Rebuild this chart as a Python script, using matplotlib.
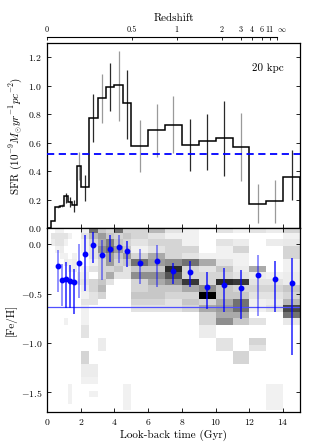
import numpy as np
import matplotlib
matplotlib.use('Agg')
import matplotlib.pyplot as plt
from matplotlib.colors import to_rgba

plt.rcParams.update({
    'font.family': 'serif',
    'font.serif': ['cmr10', 'DejaVu Serif'],
    'mathtext.fontset': 'cm',
    'axes.formatter.use_mathtext': True,
    'axes.unicode_minus': True,
})

# ---------------- data ----------------
sfr_edges = [0, 0.25, 0.5, 0.75, 1.0, 1.25, 1.5, 1.75, 2.0, 2.5, 3.0, 3.5, 4.0, 4.5,
             5, 6, 7, 8, 9, 10, 11, 12, 13, 14, 15]
sfr_values = [0.0, 0.05, 0.15, 0.155, 0.224, 0.182, 0.163, 0.434, 0.289, 0.775,
              0.915, 0.99, 1.003, 0.875, 0.575, 0.686, 0.725, 0.586, 0.61, 0.632,
              0.569, 0.168, 0.189, 0.359]
sfr_mean_level = 0.523

err_time = [0.625, 0.875, 1.125, 1.375, 1.625, 1.875, 2.25, 2.75, 3.25, 3.75, 4.25,
            4.75, 5.5, 6.5, 7.5, 8.5, 9.5, 10.5, 11.5, 12.5, 13.5, 14.5]
sfr_lo = [0.14, 0.145, 0.175, 0.15, 0.115, 0.336, 0.19, 0.604, 0.74, 0.821, 0.751,
          0.628, 0.394, 0.5, 0.525, 0.40, 0.41, 0.364, 0.33, 0.033, 0.037, 0.20]
sfr_hi = [0.16, 0.17, 0.245, 0.215, 0.195, 0.534, 0.37, 0.943, 1.083, 1.158, 1.246,
          1.111, 0.756, 0.873, 0.928, 0.768, 0.80, 0.896, 0.81, 0.308, 0.336, 0.546]
err_light = [True, True, False, False, False, True, False, False, True, False, True,
             False, True, True, False, False, False, False, False, True, False, False]
sfr_light = [True, True, False, False, False, True, False, False, True, False, True,
             False, True, True, True, False, False, False, True, True, True, False]

feh_mean = [-0.22, -0.361, -0.351, -0.368, -0.385, -0.186, -0.098, -0.007, -0.112,
            -0.051, -0.024, -0.068, -0.193, -0.166, -0.267, -0.277, -0.429, -0.412,
            -0.439, -0.311, -0.351, -0.388]
feh_lo = [-0.483, -0.63, -0.641, -0.641, -0.708, -0.54, -0.473, -0.193, -0.361,
          -0.18, -0.19, -0.226, -0.40, -0.43, -0.40, -0.43, -0.658, -0.682, -0.756,
          -0.722, -0.69, -1.12]
feh_hi = [-0.058, -0.2, -0.179, -0.213, -0.253, 0.0, 0.091, 0.124, 0.044, 0.094,
          0.094, 0.037, -0.05, -0.007, -0.19, -0.17, -0.277, -0.243, -0.26, -0.108,
          -0.17, -0.135]
feh_reference = -0.635

# 2D age-metallicity density (rows from top [Fe/H] bin downwards, columns follow sfr_edges)
feh_edges = np.linspace(0.18333, -1.75, 30)
density = [
    [0, 0, 0.5, 0.5, 0, 0, 0, 0, 0.5, 5, 2, 1.5, 5, 1.5, 1.5, 2.5, 1, 0.5, 0, 1, 0.5, 1, 0.7, 1.5],
    [0, 1, 1, 1, 1, 0.5, 0, 0, 1, 2.5, 3.5, 2, 1.5, 2, 1.5, 1, 0.5, 0.5, 0, 0, 0, 0, 0, 0.5],
    [0, 0.7, 1, 1, 0.5, 0, 0, 0, 0.5, 1.5, 3, 4.5, 2, 1.5, 1, 1.5, 1.5, 0.5, 0, 1, 0.7, 0, 0.7, 0.8],
    [0, 0, 0.5, 0.7, 0, 0, 0, 0, 0.5, 1, 4, 5, 3.5, 2, 0.5, 1, 1.5, 1.5, 0, 0.5, 1.5, 0, 0, 1.5],
    [0, 0, 0, 0.5, 0.5, 0, 0.5, 0, 0, 1, 2, 3.5, 2, 3.5, 1.5, 3, 1.5, 1, 0.5, 0.5, 0.5, 0, 0, 1.5],
    [0, 0, 0, 0, 0.7, 0.5, 0.7, 0, 0, 0.5, 1.5, 3.5, 1.5, 2, 5, 3.5, 4, 5, 3, 1, 0.5, 0, 0, 0.5],
    [0, 0, 0, 0, 0, 0.5, 0.7, 0, 0.5, 1, 1.5, 1.5, 2, 1, 2, 2, 7.5, 1.5, 1, 2, 0.7, 3, 0, 0.5],
    [0, 0, 0, 0, 0, 0, 0, 0.5, 0.7, 0, 1.5, 3, 1, 1, 4, 4, 6, 1.5, 1.5, 1.5, 1, 0.7, 0.5, 0.7],
    [0, 0, 0, 0, 0, 0, 0, 0.7, 1, 1.5, 2, 1, 0, 0, 1.5, 3, 4, 7, 1.5, 7.5, 7, 1, 1, 0.7],
    [0, 0, 0, 0, 0, 0, 0, 0, 0.7, 1.5, 2.5, 0, 0, 0, 1.5, 2, 2, 3, 4, 2, 1.5, 1.5, 1.5, 2],
    [0, 0, 0, 0, 0, 0, 0, 0, 0.5, 1, 1.5, 0, 0, 0, 2, 2, 1.5, 1.5, 9, 2, 2, 1, 1, 1.5],
    [0, 0, 0, 0, 0, 0, 0, 0, 1, 1, 0, 0, 0, 0, 1.5, 1.5, 1, 2, 1.5, 3, 5, 0.5, 0.7, 2.5],
    [0, 0, 0, 0, 0, 0, 0, 0, 0.5, 0, 0, 0, 0, 0, 1, 1, 1, 1.5, 3, 3.5, 5, 0.5, 1, 6.5],
    [0, 0, 0, 0, 0, 0, 0, 0, 0.5, 0, 0, 0, 0, 0, 0, 0, 0, 0, 1.5, 3, 3, 0, 0, 5],
    [0, 0, 0, 0, 0.5, 0, 0, 0, 0.5, 0, 0, 0, 0, 0, 0, 0, 0, 0, 1.5, 4, 2, 1, 0, 0.8],
    [0, 0, 0, 0, 0, 0, 0, 0, 1, 0, 0, 0, 0, 0, 0, 0, 0, 0, 0.7, 0, 0, 0, 0, 0],
    [0, 0, 0, 0, 0, 0, 0, 0, 1, 0, 0, 0, 0, 0, 0, 0, 0, 0, 0.7, 0, 0, 0, 0, 0],
    [0, 0, 0, 0, 0, 0, 0, 0, 0, 0, 0.7, 0, 0, 0, 0, 0, 0, 0, 0, 1, 0, 1.5, 0, 0],
    [0, 0, 0, 0, 0, 0, 0, 0, 0, 0, 0.7, 0, 0, 0, 0, 0, 0, 0, 0, 1, 0, 1, 0, 0],
    [0, 0, 0, 0, 0, 0, 0, 0, 1.5, 0, 0, 0, 0, 0, 0, 0, 0, 0, 0, 0, 1.5, 0, 0, 0],
    [0, 0, 0, 0, 0, 0, 0, 0, 1.5, 0, 0, 0, 0, 0, 0, 0, 0, 0, 0, 0, 1.5, 0, 0, 0],
    [0, 0, 0, 0, 0, 0, 0, 0, 0.7, 0.7, 0, 0, 0, 0, 0, 0, 0, 0, 0, 0, 0, 0, 0, 0],
    [0, 0, 0, 0, 0, 0, 0, 0, 0.7, 0.7, 0, 0, 0, 0, 0, 0, 0, 0, 0, 0, 0, 0, 0, 0],
    [0, 0, 0, 0, 0, 0, 0, 0, 0.5, 0.5, 0, 0, 0, 0, 0, 0, 0, 0, 0, 0, 0, 0, 0, 0],
    [0, 0, 0, 0, 0, 0.5, 0, 0, 0, 0, 0, 0, 0, 0.5, 0, 0, 0, 0, 0, 0, 0, 0, 0.5, 0],
    [0, 0, 0, 0, 0, 0.5, 0, 0, 0, 0.5, 0, 0, 0, 0.5, 0, 0, 0, 0, 0, 0, 0, 0, 0.5, 0],
    [0, 0, 0, 0, 0, 0.5, 0, 0, 0, 0, 0, 0, 0, 0.5, 0, 0, 0, 0, 0, 0, 0, 0, 0.5, 0],
    [0, 0, 0, 0, 0, 0, 0, 0, 0, 0, 0, 0, 0, 0.5, 0, 0, 0, 0, 0, 0, 0, 0, 0.5, 0],
    [0] * 24,
]

z_tick_times = [0, 5.05, 7.68, 10.35, 11.49, 12.13, 12.72, 13.21, 13.61]
z_tick_labels = ['0', '0.5', '1', '2', '3', '4', '6', '11', r'$\infty$']

# ---------------- figure ----------------
fig = plt.figure(figsize=(3.16, 4.43), dpi=100)
ax1 = fig.add_axes([0.1487, 0.4853, 0.8006, 0.4176])
ax2 = fig.add_axes([0.1487, 0.0700, 0.8006, 0.4153])

tick_kw = dict(direction='in', length=3, width=0.6, labelsize=7)

# --- SFR panel
ax1.stairs(sfr_values, sfr_edges, color='black', lw=1.1, baseline=0, zorder=3)
cols = ['#9a9a9a' if l else '#2a2a2a' for l in sfr_light]
ax1.vlines(err_time, sfr_lo, sfr_hi, colors=cols, lw=0.9, zorder=2)
ax1.axhline(sfr_mean_level, color='blue', lw=1.3, ls=(0, (4, 2.5)), zorder=4)
ax1.text(0.935, 0.865, '20 kpc', transform=ax1.transAxes, ha='right', va='center',
         fontsize=8)
ax1.set_xlim(0, 15)
ax1.set_ylim(0, 1.3)
ax1.set_xticks(range(0, 16, 2))
ax1.tick_params(which='both', bottom=True, top=False, left=True, right=True,
                labelbottom=False, **tick_kw)
for s in ax1.spines.values():
    s.set_linewidth(0.9)

# --- redshift axis
axz = ax1.twiny()
axz.set_xlim(0, 15)
axz.set_xticks(z_tick_times)
axz.set_xticklabels(z_tick_labels)
axz.tick_params(axis='x', direction='in', length=2.5, width=0.6, labelsize=5.8, pad=2)
for side in ['left', 'right', 'bottom']:
    axz.spines[side].set_visible(False)
axz.spines['top'].set_position(('outward', 4.5))
axz.spines['top'].set_bounds(0, 13.61)
axz.spines['top'].set_linewidth(0.8)
axz.set_xlabel('Redshift', fontsize=8, labelpad=3)
for lab in axz.get_xticklabels()[-1:]:
    lab.set_horizontalalignment('left')
    lab.set_x(13.3)

ax1.set_ylim(0, 1.3)
ax1.set_yticks([0.0, 0.2, 0.4, 0.6, 0.8, 1.0, 1.2])
ax1.set_ylabel(r'SFR ($10^{-9}M_{\odot}yr^{-1}pc^{-2}$)', fontsize=8, labelpad=3)

# --- metallicity panel
ax2.pcolormesh(sfr_edges, feh_edges, np.array(density), cmap='gray_r', vmin=0,
               vmax=9, shading='flat', zorder=1)
ax2.axhline(feh_reference, color='#5050ff', lw=0.9, zorder=2)
ecols = [to_rgba('blue', 0.5 if l else 0.8) for l in err_light]
ax2.vlines(err_time, feh_lo, feh_hi, colors=ecols, lw=1.2, zorder=3)
ax2.plot(err_time, feh_mean, 'o', color='blue', ms=3.2, mec='blue', zorder=4)
ax2.set_xlim(0, 15)
ax2.set_ylim(-1.7, 0.165)
ax2.set_xticks(range(0, 16, 2))
ax2.set_yticks([0.0, -0.5, -1.0, -1.5])
ax2.tick_params(which='both', bottom=True, top=True, left=True, right=True, **tick_kw)
ax2.set_xlabel('Look-back time (Gyr)', fontsize=8, labelpad=2)
ax2.set_ylabel('[Fe/H]', fontsize=8, labelpad=3)
for s in ax2.spines.values():
    s.set_linewidth(0.9)

fig.savefig('out.png', dpi=100)
